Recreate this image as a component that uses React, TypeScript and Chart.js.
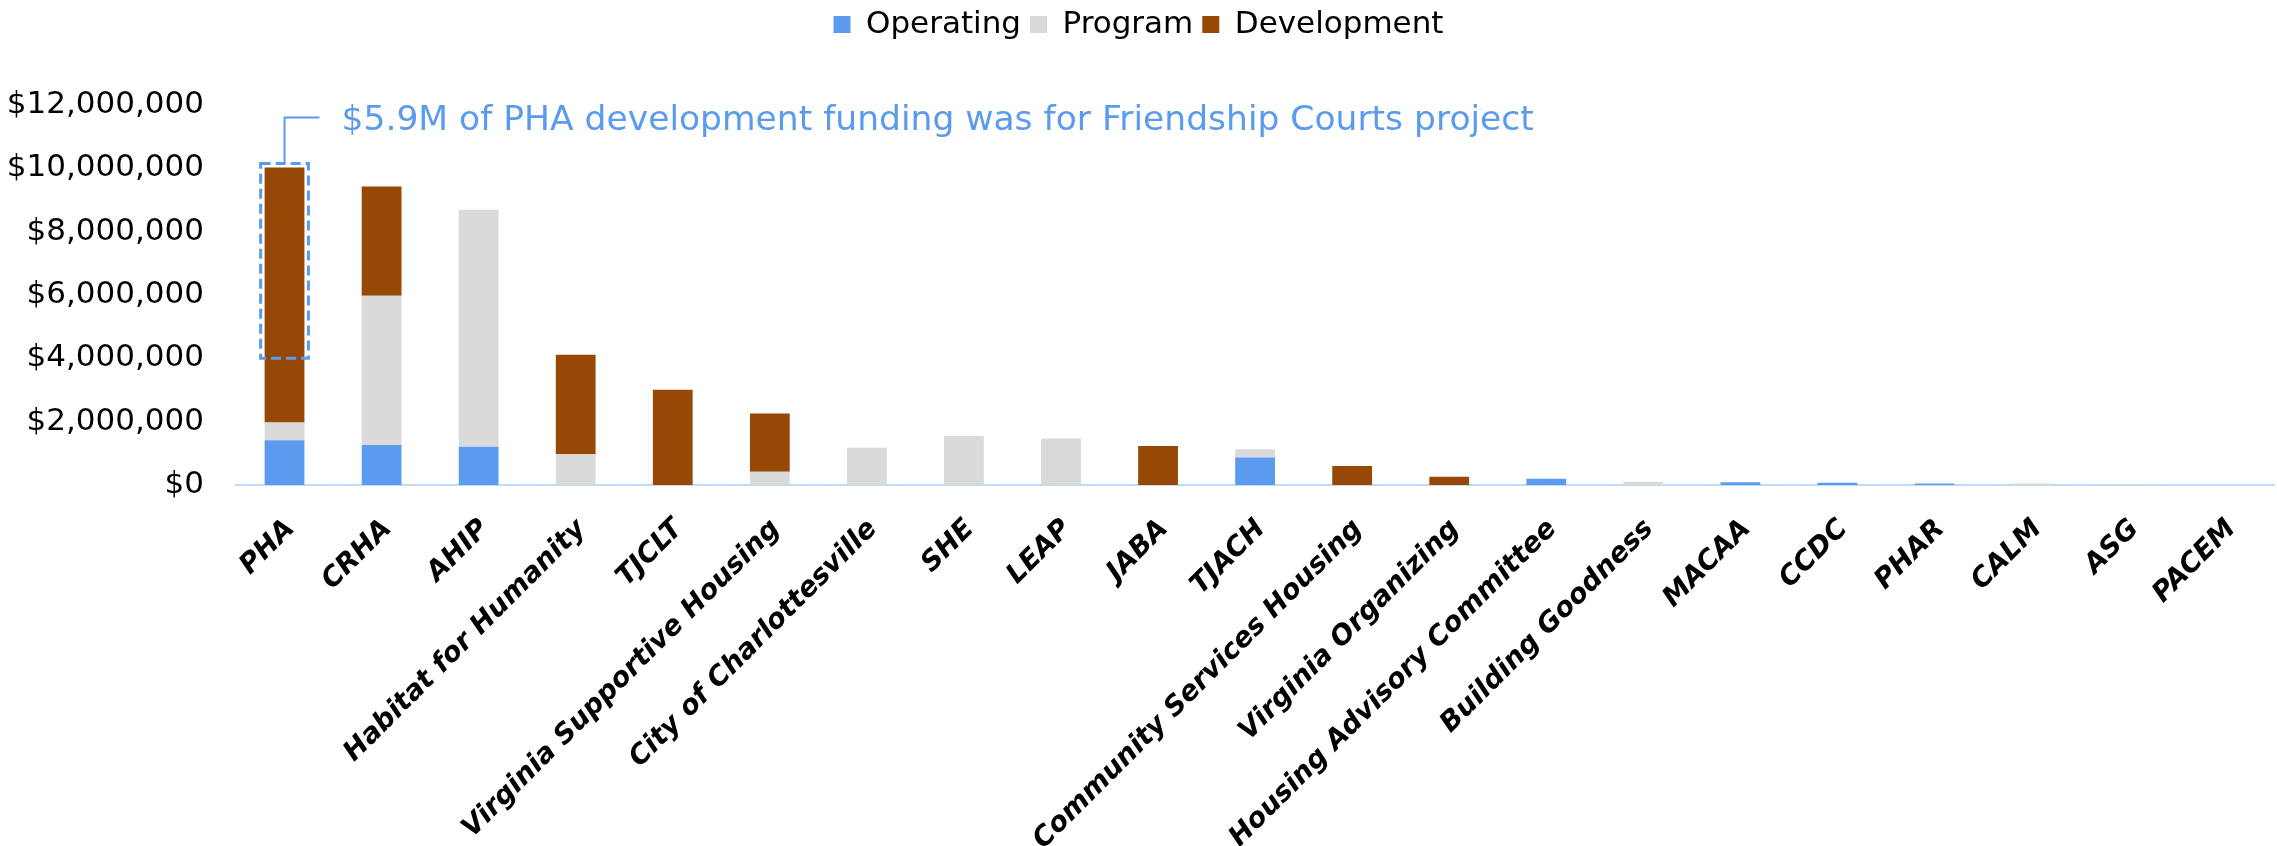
import React, { useEffect, useRef } from "react";
import { Chart, registerables } from "chart.js";

Chart.register(...registerables);

const categories = [
  "PHA", "CRHA", "AHIP", "Habitat for Humanity", "TJCLT", "Virginia Supportive Housing",
  "City of Charlottesville", "SHE", "LEAP", "JABA", "TJACH", "Community Services Housing",
  "Virginia Organizing", "Housing Advisory Committee", "Building Goodness", "MACAA", "CCDC",
  "PHAR", "CALM", "ASG", "PACEM",
];

const operating = [1410000, 1260000, 1210000, 0, 0, 0, 0, 0, 0, 0, 870000, 0, 0, 200000, 0, 90000, 70000, 50000, 0, 0, 0];
const program = [560000, 4720000, 7480000, 970000, 0, 420000, 1180000, 1550000, 1470000, 0, 260000, 0, 0, 0, 100000, 0, 0, 0, 50000, 10000, 0];
const development = [8060000, 3450000, 0, 3140000, 3010000, 1840000, 0, 0, 0, 1230000, 0, 600000, 260000, 0, 0, 0, 0, 0, 0, 0, 0];

const seriesNames = ["Operating", "Program", "Development"];
const seriesColors = ["#5B9BEF", "#DADADA", "#974706"];

const yMax = 12000000;
const yStep = 2000000;

const annotationText = "$5.9M of PHA development funding was for Friendship Courts project";
const annotationAmount = 5900000;
const annotationIndex = 0;

const BLUE = "#5B9BEF";

const annotationPlugin = {
  id: "friendshipAnnotation",
  afterDatasetsDraw(chart: any) {
    const ctx = chart.ctx;
    const yScale = chart.scales.y;
    const meta = chart.getDatasetMeta(2);
    const bar = meta.data[annotationIndex] as any;
    if (!bar) return;
    const total = operating[annotationIndex] + program[annotationIndex] + development[annotationIndex];
    const pad = 4;
    const left = bar.x - bar.width / 2 - pad;
    const right = bar.x + bar.width / 2 + pad;
    const top = yScale.getPixelForValue(total) - pad;
    const bottom = yScale.getPixelForValue(total - annotationAmount) + pad;
    ctx.save();
    ctx.strokeStyle = BLUE;
    ctx.lineWidth = 3;
    ctx.setLineDash([10, 5]);
    ctx.strokeRect(left, top, right - left, bottom - top);
    ctx.setLineDash([]);
    ctx.lineWidth = 2;
    const lineY = top - 46;
    ctx.beginPath();
    ctx.moveTo(bar.x, top);
    ctx.lineTo(bar.x, lineY);
    ctx.lineTo(bar.x + 35, lineY);
    ctx.stroke();
    ctx.fillStyle = BLUE;
    ctx.font = '34.5px "DejaVu Sans"';
    ctx.textAlign = "left";
    ctx.textBaseline = "alphabetic";
    ctx.fillText(annotationText, bar.x + 57, lineY + 13);
    ctx.restore();
  },
};

const layoutPlugin = {
  id: "legendHeight",
  beforeInit(chart: any) {
    const legend = chart.legend;
    if (!legend) return;
    const orig = legend.fit;
    legend.fit = function () {
      orig.call(this);
      this.height = 105;
    };
  },
};

export default function App() {
  const ref = useRef<HTMLCanvasElement | null>(null);
  useEffect(() => {
    if (!ref.current) return;
    const values = [operating, program, development];
    const chart = new Chart(ref.current, {
      type: "bar",
      data: {
        labels: categories,
        datasets: seriesNames.map((name, i) => ({
          label: name,
          data: values[i],
          backgroundColor: seriesColors[i],
          borderWidth: 0,
          categoryPercentage: 1,
          barPercentage: 0.41,
        })),
      },
      options: {
        responsive: false,
        animation: false,
        devicePixelRatio: 1,
        layout: { padding: { top: 0, left: 0, right: 0, bottom: 0 } },
        plugins: {
          legend: {
            display: true,
            position: "top",
            labels: {
              boxWidth: 17,
              boxHeight: 17,
              padding: 9,
              color: "#000",
              font: { family: "DejaVu Sans", size: 31 },
            },
          },
          tooltip: { enabled: false },
        },
        scales: {
          x: {
            stacked: true,
            grid: { display: false, drawTicks: false },
            border: { display: true, color: "#BDDCF8", width: 2 },
            ticks: {
              autoSkip: false,
              minRotation: 45,
              maxRotation: 45,
              padding: 28,
              labelOffset: 6,
              color: "#000",
              font: { family: "DejaVu Sans", size: 27.5, weight: "bold", style: "italic" },
            },
            afterFit(scale: any) {
              scale.height = 361;
            },
          },
          y: {
            stacked: true,
            min: 0,
            max: yMax,
            grid: { display: false, drawTicks: false },
            border: { display: false },
            ticks: {
              stepSize: yStep,
              padding: 32,
              color: "#000",
              font: { family: "DejaVu Sans", size: 31 },
              callback: (v: any) => "$" + Number(v).toLocaleString("en-US"),
            },
            afterFit(scale: any) {
              scale.width = 236;
            },
          },
        },
      },
      plugins: [layoutPlugin, annotationPlugin],
    });
    return () => chart.destroy();
  }, []);
  return (
    <div style={{ position: "fixed", left: 0, top: 0, width: 2277, height: 846, background: "#fff" }}>
      <canvas ref={ref} width={2277} height={846} style={{ display: "block" }} />
    </div>
  );
}
